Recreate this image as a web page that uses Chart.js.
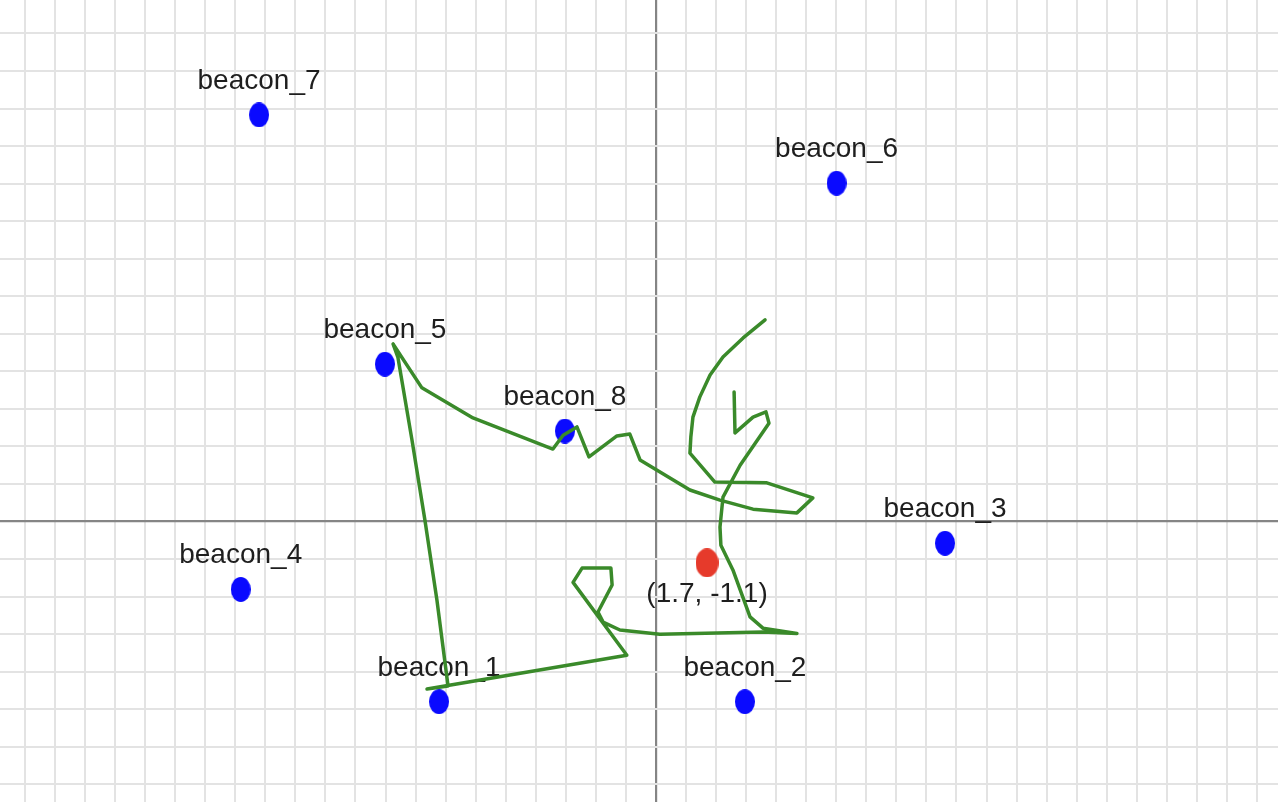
<!DOCTYPE html>
<html>
<head>
<meta charset="utf-8">
<script src="https://cdn.jsdelivr.net/npm/chart.js@4.4.1/dist/chart.umd.min.js"></script>
<style>
  html, body { margin: 0; padding: 0; background: #fff; overflow: hidden; }
  /* the chart area is inset 5px inside the canvas, so pull the canvas out by that much */
  #wrap { width: 1288px; height: 812px; position: relative; left: -5px; top: -5px; }
</style>
</head>
<body>
<div id="wrap"><canvas id="beaconChart"></canvas></div>
<script>
// Beacons (1 unit per grid line)
var beaconNames = ['beacon_1', 'beacon_2', 'beacon_3', 'beacon_4', 'beacon_5', 'beacon_6', 'beacon_7', 'beacon_8'];
var beaconX = [-7.22, 2.96, 9.62, -13.82, -9.02, 6.01, -13.21, -3.03];
var beaconY = [-4.8, -4.8, -0.58, -1.81, 4.19, 9.01, 10.83, 2.41];

// Estimated position
var estimateX = [1.7];
var estimateY = [-1.1];
var estimateLabel = '(1.7, -1.1)';

// Walked path
var pathX = [3.63, 2.90, 2.23, 1.80, 1.46, 1.23, 1.16, 1.13, 1.96, 3.69, 5.22, 4.69, 3.23, 2.13, 1.13,
  -0.53, -0.87, -1.30, -2.23, -2.63, -3.09, -3.43, -6.09, -7.79, -8.75, -8.59, -8.12, -7.69, -7.29, -6.92,
  -7.62, -0.97, -2.76, -2.46, -1.50, -1.46, -1.93, -1.76, -1.20, 0.13, 3.56, 4.69, 3.56, 3.13, 2.56,
  2.16, 2.13, 2.23, 2.80, 3.76, 3.66, 3.23, 2.63, 2.60];
var pathY = [5.37, 4.89, 4.38, 3.90, 3.32, 2.78, 2.25, 1.82, 1.05, 1.03, 0.63, 0.23, 0.33, 0.57, 0.84,
  1.64, 2.33, 2.28, 1.72, 2.52, 2.30, 1.93, 2.76, 3.56, 4.73, 4.38, 2.17, 0.04, -2.09, -4.38,
  -4.46, -3.56, -1.62, -1.24, -1.24, -1.69, -2.41, -2.68, -2.89, -3.00, -2.94, -2.98, -2.84, -2.54, -1.29,
  -0.63, -0.15, 0.65, 1.50, 2.62, 2.92, 2.78, 2.36, 3.45];

function zip(xs, ys) {
    return xs.map(function (x, i) { return { x: x, y: ys[i] }; });
}

// oval markers (the picture is a bit stretched vertically)
function ovalMarker(color, w, h) {
    var c = document.createElement('canvas');
    c.width = w; c.height = h;
    var g = c.getContext('2d');
    g.fillStyle = color;
    g.beginPath();
    g.ellipse(w / 2, h / 2, w / 2, h / 2, 0, 0, Math.PI * 2);
    g.fill();
    return c;
}

var labelFont = '28px "Liberation Sans", Arial, sans-serif';

var labelPlugin = {
    id: 'pointLabels',
    beforeDatasetsDraw: function (chart) {
        var ctx = chart.ctx;
        var xs = chart.scales.x, ys = chart.scales.y;
        ctx.save();
        ctx.font = labelFont;
        ctx.fillStyle = '#1e1e1e';
        ctx.textAlign = 'center';
        ctx.textBaseline = 'alphabetic';
        beaconNames.forEach(function (name, i) {
            ctx.fillText(name, xs.getPixelForValue(beaconX[i]), ys.getPixelForValue(beaconY[i]) - 26);
        });
        ctx.fillText(estimateLabel, xs.getPixelForValue(estimateX[0]), ys.getPixelForValue(estimateY[0]) + 39);
        ctx.restore();
    }
};

function gridColor(c) { return c.tick && c.tick.value === 0 ? '#858585' : '#e3e3e3'; }
function gridWidth(c) { return c.tick && c.tick.value === 0 ? 2.2 : 2; }

var ctx = document.getElementById('beaconChart').getContext('2d');
var beaconChart = new Chart(ctx, {
    type: 'scatter',
    data: {
        datasets: [{
            label: 'path',
            data: zip(pathX, pathY),
            showLine: true,
            borderColor: '#3a8a2a',
            borderWidth: 3.5,
            borderJoinStyle: 'round',
            borderCapStyle: 'round',
            pointRadius: 0,
            tension: 0,
            order: 0
        }, {
            label: 'estimate',
            data: zip(estimateX, estimateY),
            pointStyle: ovalMarker('#e63a2b', 23, 29),
            order: 1
        }, {
            label: 'beacons',
            data: zip(beaconX, beaconY),
            pointStyle: ovalMarker('#0a0aff', 20, 25),
            order: 2
        }]
    },
    options: {
        responsive: true,
        maintainAspectRatio: false,
        animation: false,
        layout: { padding: 0 },
        plugins: {
            legend: { display: false },
            tooltip: { enabled: false }
        },
        scales: {
            x: {
                type: 'linear',
                min: -21.83,
                max: 20.70,
                border: { display: false },
                grid: { color: gridColor, lineWidth: gridWidth, drawTicks: false },
                ticks: { display: false, stepSize: 1, includeBounds: false, maxTicksLimit: 100 }
            },
            y: {
                type: 'linear',
                min: -7.47,
                max: 13.89,
                border: { display: false },
                grid: { color: gridColor, lineWidth: gridWidth, drawTicks: false },
                ticks: { display: false, stepSize: 1, includeBounds: false, maxTicksLimit: 100 }
            }
        }
    },
    plugins: [labelPlugin]
});
</script>
</body>
</html>
